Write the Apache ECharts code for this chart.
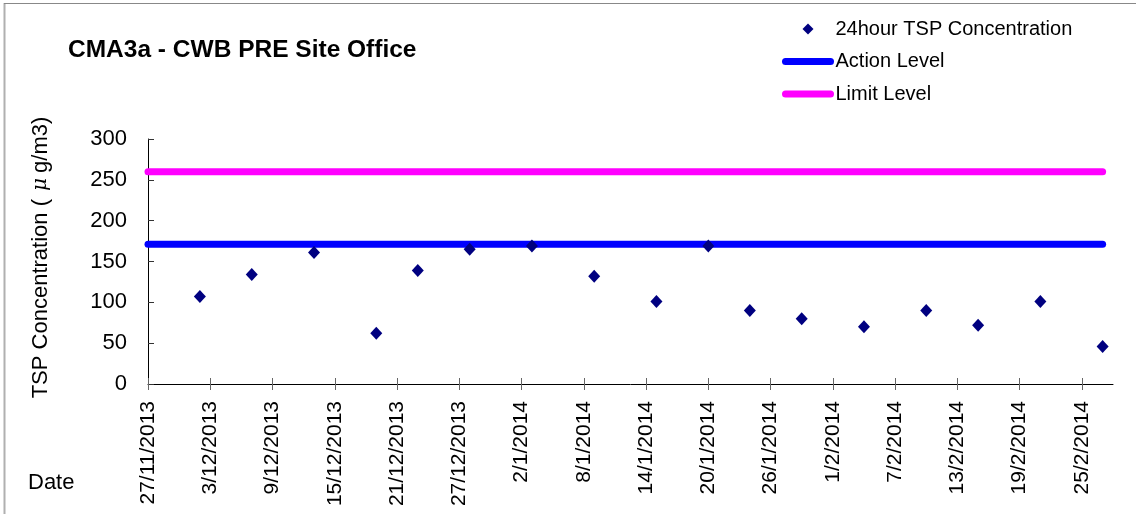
<!DOCTYPE html>
<html>
<head>
<meta charset="utf-8">
<script src="https://cdn.jsdelivr.net/npm/echarts@6/dist/echarts.min.js"></script>
<style>
html,body{margin:0;padding:0;background:#fff;}
#chart{width:1136px;height:514px;}
</style>
</head>
<body>
<div id="chart"></div>
<script>
// ---- data ----
const chartTitle = 'CMA3a - CWB PRE Site Office';
const seriesNames = ['24hour TSP Concentration', 'Action Level', 'Limit Level'];
const sampleDates = ['2/12/2013','7/12/2013','13/12/2013','19/12/2013','23/12/2013','28/12/2013','3/1/2014',
  '9/1/2014','15/1/2014','20/1/2014','24/1/2014','29/1/2014','4/2/2014','10/2/2014','15/2/2014','21/2/2014','27/2/2014'];
const tspValues = [107,134,161,62,139,165,169,132,101,169,90,80,70,90,72,101,46];
const actionLevel = 171;
const limitLevel = 260;
const levelDates = ['27/11/2013','27/2/2014'];
const xTickLabels = ['27/11/2013','3/12/2013','9/12/2013','15/12/2013','21/12/2013','27/12/2013','2/1/2014',
  '8/1/2014','14/1/2014','20/1/2014','26/1/2014','1/2/2014','7/2/2014','13/2/2014','19/2/2014','25/2/2014'];
const xAxisStart = '27/11/2013';
const xAxisEnd = '28/2/2014';
const yTicks = [0,50,100,150,200,250,300];

// ---- helpers ----
function toDay(s){
  const p = s.split('/').map(Number);
  return Date.UTC(p[2], p[1]-1, p[0]) / 86400000;
}
const day0 = toDay(xAxisStart);
const dayIdx = s => toDay(s) - day0;
const labelByDay = {};
xTickLabels.forEach(s => { labelByDay[dayIdx(s)] = s; });
const tickDays = xTickLabels.map(dayIdx);

const FONT = "'Liberation Sans', Arial, sans-serif";
const gridRect = {left:148, right:23, top:139, bottom:130};
// legend diamond centred in a 45x11 icon box
const legendDiamond = 'path://M0,5.5L0,5.5M45,5.5L45,5.5M17,5.5L22.5,0L28,5.5L22.5,11Z';

const chart = echarts.init(document.getElementById('chart'), null, {renderer:'canvas'});
const option = {
  backgroundColor:'#fff',
  animation:false,
  textStyle:{fontFamily:FONT, color:'#000'},
  title:[
    {text:chartTitle, left:68, top:38, padding:0,
     textStyle:{fontFamily:FONT, fontSize:24.5, fontWeight:'bold', color:'#000'}},
    {text:'Date', left:28, top:472, padding:0,
     textStyle:{fontFamily:FONT, fontSize:22, fontWeight:'normal', color:'#000'}}
  ],
  legend:{
    orient:'vertical', left:782, top:18, padding:0,
    itemWidth:45, itemHeight:11, itemGap:10.5,
    textStyle:{fontFamily:FONT, fontSize:20, color:'#000', lineHeight:22},
    lineStyle:{width:7, cap:'round'},
    data:[
      {name:seriesNames[0], icon:legendDiamond, itemStyle:{color:'#000080', opacity:1}},
      {name:seriesNames[1], itemStyle:{opacity:0}},
      {name:seriesNames[2], itemStyle:{opacity:0}}
    ]
  },
  graphic:[
    {type:'line', shape:{x1:4.5,y1:3,x2:4.5,y2:514}, style:{stroke:'#b0b0b0', lineWidth:2}, silent:true},
    {type:'line', shape:{x1:4,y1:3.5,x2:1136,y2:3.5}, style:{stroke:'#888', lineWidth:1}, silent:true}
  ],
  grid:[
    Object.assign({}, gridRect),
    Object.assign({}, gridRect)
  ],
  xAxis:[
    {type:'value', gridIndex:0, min:0, max:dayIdx(xAxisEnd), interval:6,
     axisLine:{show:true, lineStyle:{color:'#000', width:1}},
     axisTick:{show:true, inside:true, length:6, lineStyle:{color:'#666'}, customValues:tickDays},
     axisLabel:{show:true, rotate:90, margin:17, fontFamily:FONT, fontSize:21, color:'#000',
       customValues:tickDays,
       formatter:v => labelByDay[Math.round(v)] || ''},
     splitLine:{show:false}},
    {type:'value', gridIndex:1, min:0, max:dayIdx(xAxisEnd), interval:6,
     axisLine:{show:false},
     axisTick:{show:true, inside:false, length:6, lineStyle:{color:'#666'}, customValues:tickDays},
     axisLabel:{show:false},
     splitLine:{show:false}}
  ],
  yAxis:[
    {type:'value', gridIndex:0, min:yTicks[0], max:yTicks[yTicks.length-1], interval:50,
     name:'TSP Concentration ( {mu|μ}g/m3)', nameLocation:'middle', nameGap:96,
     nameTextStyle:{fontFamily:FONT, fontSize:22, color:'#000', padding:[0,0,0,8],
       rich:{mu:{fontFamily:"'DejaVu Serif', serif", fontStyle:'italic', fontSize:20, color:'#000', padding:[0,5,0,2]}}},
     axisLine:{show:true, lineStyle:{color:'#000', width:1}},
     axisTick:{show:true, inside:true, length:6, lineStyle:{color:'#333'}},
     axisLabel:{margin:21, fontFamily:FONT, fontSize:22, color:'#000'},
     splitLine:{show:false}},
    {type:'value', gridIndex:1, min:0, max:300, show:false}
  ],
  series:[
    {name:seriesNames[1], type:'line', xAxisIndex:0, yAxisIndex:0, z:2,
     symbol:'none', color:'#0000ff',
     lineStyle:{color:'#0000ff', width:7, cap:'round'},
     data:levelDates.map(d => [dayIdx(d), actionLevel])},
    {name:seriesNames[2], type:'line', xAxisIndex:0, yAxisIndex:0, z:2,
     symbol:'none', color:'#ff00ff',
     lineStyle:{color:'#ff00ff', width:7, cap:'round'},
     data:levelDates.map(d => [dayIdx(d), limitLevel])},
    {name:seriesNames[0], type:'scatter', xAxisIndex:0, yAxisIndex:0, z:3,
     symbol:'diamond', symbolSize:[12,13],
     itemStyle:{color:'#000080', opacity:1},
     data:sampleDates.map((d,i) => [dayIdx(d), tspValues[i]])}
  ]
};
chart.setOption(option);
</script>
</body>
</html>
